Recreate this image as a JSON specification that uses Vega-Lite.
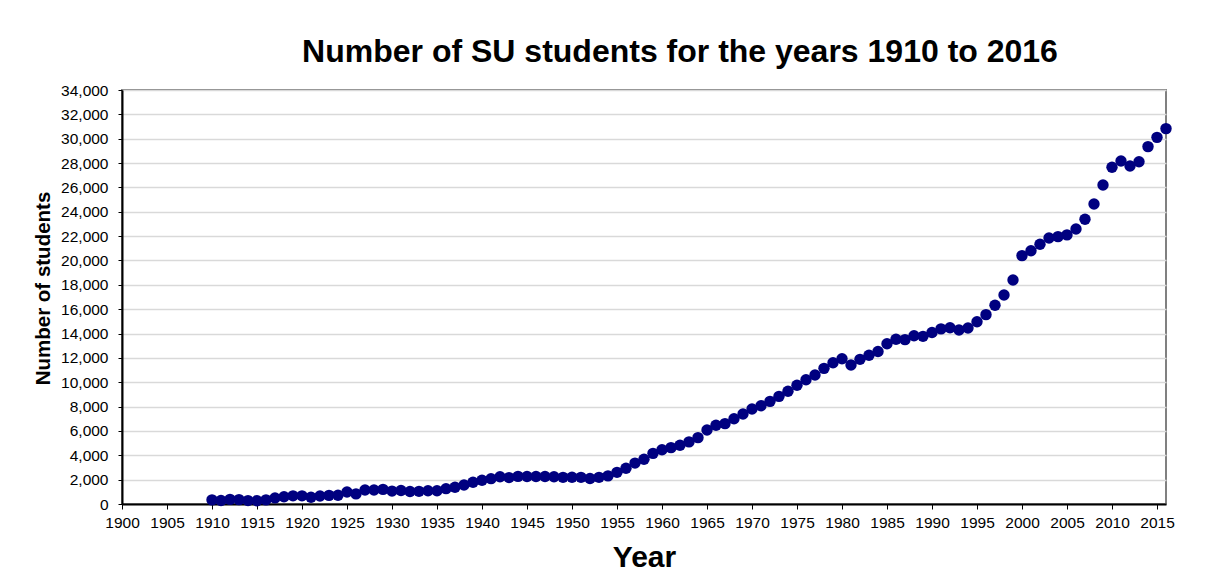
{
  "$schema": "https://vega.github.io/schema/vega-lite/v6.json",
  "width": 1044,
  "height": 414,
  "autosize": {"type": "none"},
  "padding": {"left": 122, "top": 90, "right": 43, "bottom": 69},
  "background": "white",
  "title": {
    "text": "Number of SU students for the years 1910 to 2016",
    "font": "Liberation Sans",
    "fontSize": 32,
    "fontWeight": "bold",
    "color": "black",
    "anchor": "middle",
    "dx": 36,
    "offset": 14
  },
  "data": {
    "values": [
      {"year": 1910, "students": 340},
      {"year": 1911, "students": 290},
      {"year": 1912, "students": 380},
      {"year": 1913, "students": 360},
      {"year": 1914, "students": 280},
      {"year": 1915, "students": 270},
      {"year": 1916, "students": 340},
      {"year": 1917, "students": 500},
      {"year": 1918, "students": 600},
      {"year": 1919, "students": 670},
      {"year": 1920, "students": 670},
      {"year": 1921, "students": 560},
      {"year": 1922, "students": 660},
      {"year": 1923, "students": 710},
      {"year": 1924, "students": 720},
      {"year": 1925, "students": 980},
      {"year": 1926, "students": 830},
      {"year": 1927, "students": 1150},
      {"year": 1928, "students": 1150},
      {"year": 1929, "students": 1200},
      {"year": 1930, "students": 1060},
      {"year": 1931, "students": 1110},
      {"year": 1932, "students": 1030},
      {"year": 1933, "students": 1040},
      {"year": 1934, "students": 1090},
      {"year": 1935, "students": 1090},
      {"year": 1936, "students": 1260},
      {"year": 1937, "students": 1370},
      {"year": 1938, "students": 1560},
      {"year": 1939, "students": 1780},
      {"year": 1940, "students": 1950},
      {"year": 1941, "students": 2080},
      {"year": 1942, "students": 2240},
      {"year": 1943, "students": 2170},
      {"year": 1944, "students": 2270},
      {"year": 1945, "students": 2260},
      {"year": 1946, "students": 2260},
      {"year": 1947, "students": 2260},
      {"year": 1948, "students": 2240},
      {"year": 1949, "students": 2190},
      {"year": 1950, "students": 2200},
      {"year": 1951, "students": 2190},
      {"year": 1952, "students": 2090},
      {"year": 1953, "students": 2190},
      {"year": 1954, "students": 2310},
      {"year": 1955, "students": 2600},
      {"year": 1956, "students": 2930},
      {"year": 1957, "students": 3360},
      {"year": 1958, "students": 3670},
      {"year": 1959, "students": 4160},
      {"year": 1960, "students": 4460},
      {"year": 1961, "students": 4630},
      {"year": 1962, "students": 4830},
      {"year": 1963, "students": 5100},
      {"year": 1964, "students": 5450},
      {"year": 1965, "students": 6080},
      {"year": 1966, "students": 6470},
      {"year": 1967, "students": 6600},
      {"year": 1968, "students": 7000},
      {"year": 1969, "students": 7390},
      {"year": 1970, "students": 7800},
      {"year": 1971, "students": 8070},
      {"year": 1972, "students": 8430},
      {"year": 1973, "students": 8840},
      {"year": 1974, "students": 9260},
      {"year": 1975, "students": 9750},
      {"year": 1976, "students": 10210},
      {"year": 1977, "students": 10600},
      {"year": 1978, "students": 11140},
      {"year": 1979, "students": 11600},
      {"year": 1980, "students": 11930},
      {"year": 1981, "students": 11410},
      {"year": 1982, "students": 11880},
      {"year": 1983, "students": 12220},
      {"year": 1984, "students": 12530},
      {"year": 1985, "students": 13160},
      {"year": 1986, "students": 13530},
      {"year": 1987, "students": 13500},
      {"year": 1988, "students": 13820},
      {"year": 1989, "students": 13770},
      {"year": 1990, "students": 14080},
      {"year": 1991, "students": 14380},
      {"year": 1992, "students": 14480},
      {"year": 1993, "students": 14290},
      {"year": 1994, "students": 14450},
      {"year": 1995, "students": 14970},
      {"year": 1996, "students": 15550},
      {"year": 1997, "students": 16320},
      {"year": 1998, "students": 17160},
      {"year": 1999, "students": 18400},
      {"year": 2000, "students": 20400},
      {"year": 2001, "students": 20800},
      {"year": 2002, "students": 21330},
      {"year": 2003, "students": 21850},
      {"year": 2004, "students": 21960},
      {"year": 2005, "students": 22100},
      {"year": 2006, "students": 22590},
      {"year": 2007, "students": 23380},
      {"year": 2008, "students": 24640},
      {"year": 2009, "students": 26200},
      {"year": 2010, "students": 27650},
      {"year": 2011, "students": 28170},
      {"year": 2012, "students": 27760},
      {"year": 2013, "students": 28110},
      {"year": 2014, "students": 29350},
      {"year": 2015, "students": 30110},
      {"year": 2016, "students": 30830}
    ]
  },
  "mark": {
    "type": "point",
    "filled": true,
    "shape": "circle",
    "size": 130,
    "color": "#000080",
    "opacity": 1
  },
  "encoding": {
    "x": {
      "field": "year",
      "type": "quantitative",
      "scale": {"domain": [1900, 2016], "nice": false, "zero": false},
      "axis": {
        "title": "Year",
        "values": [1900, 1905, 1910, 1915, 1920, 1925, 1930, 1935, 1940, 1945, 1950, 1955, 1960, 1965, 1970, 1975, 1980, 1985, 1990, 1995, 2000, 2005, 2010, 2015],
        "format": "d",
        "grid": false,
        "domainColor": "black",
        "domainWidth": 2,
        "tickColor": "black",
        "tickSize": 5,
        "tickWidth": 1,
        "labelFont": "Liberation Sans",
        "labelFontSize": 15.5,
        "labelColor": "black",
        "labelPadding": 6,
        "labelFlush": false,
        "labelOverlap": false,
        "titleFont": "Liberation Sans",
        "titleFontSize": 30,
        "titleFontWeight": "bold",
        "titleColor": "black",
        "titleBaseline": "middle",
        "titleY": 53
      }
    },
    "y": {
      "field": "students",
      "type": "quantitative",
      "scale": {"domain": [0, 34000], "nice": false},
      "axis": {
        "title": "Number of students",
        "values": [0, 2000, 4000, 6000, 8000, 10000, 12000, 14000, 16000, 18000, 20000, 22000, 24000, 26000, 28000, 30000, 32000, 34000],
        "format": ",d",
        "grid": true,
        "gridColor": "#d9d9d9",
        "gridWidth": 1.5,
        "domainColor": "black",
        "domainWidth": 2,
        "tickColor": "black",
        "tickSize": 4,
        "tickWidth": 1,
        "labelFont": "Liberation Sans",
        "labelFontSize": 15.5,
        "labelColor": "black",
        "labelPadding": 10,
        "labelOverlap": false,
        "titleFont": "Liberation Sans",
        "titleFontSize": 20.5,
        "titleFontWeight": "bold",
        "titleColor": "black",
        "titleAngle": -90,
        "titleAlign": "center",
        "titleBaseline": "middle",
        "titleX": -79,
        "titleY": 198
      }
    }
  },
  "config": {
    "view": {"stroke": "#808080", "strokeWidth": 2}
  }
}
